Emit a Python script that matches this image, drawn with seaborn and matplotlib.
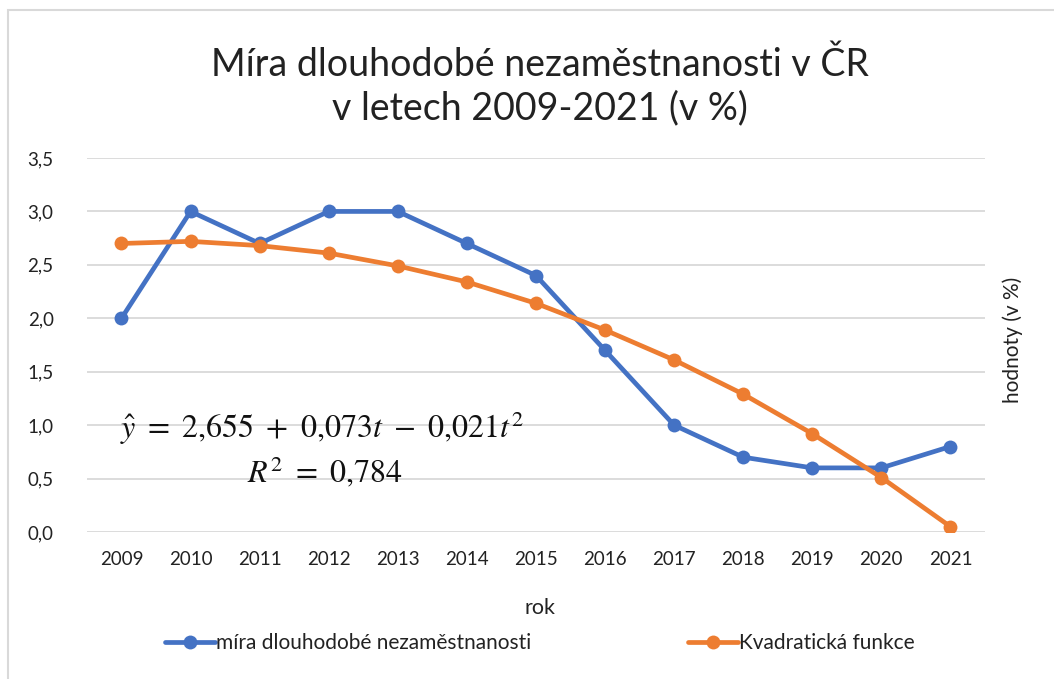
import matplotlib
matplotlib.use("Agg")
import matplotlib.pyplot as plt
import seaborn as sns
import pandas as pd
from matplotlib.patches import Rectangle

years = ["2009", "2010", "2011", "2012", "2013", "2014", "2015",
         "2016", "2017", "2018", "2019", "2020", "2021"]
mira = [2.0, 3.0, 2.7, 3.0, 3.0, 2.7, 2.4, 1.7, 1.0, 0.7, 0.6, 0.6, 0.8]
kvadr = [2.70, 2.72, 2.68, 2.61, 2.49, 2.34, 2.14, 1.89, 1.61, 1.29, 0.92, 0.51, 0.05]
y_ticks = [0.0, 0.5, 1.0, 1.5, 2.0, 2.5, 3.0, 3.5]
series_names = ["míra dlouhodobé nezaměstnanosti", "Kvadratická funkce"]
colors = ["#4472C4", "#ED7D31"]

sns.set_theme(style="white")
plt.rcParams["font.family"] = ["Lato", "DejaVu Sans"]
plt.rcParams["mathtext.fontset"] = "stix"

df = pd.DataFrame({
    "rok": years * 2,
    "x": list(range(len(years))) * 2,
    "hodnota": mira + kvadr,
    "serie": [series_names[0]] * len(years) + [series_names[1]] * len(years),
})

fig = plt.figure(figsize=(10.54, 6.79), dpi=100)
ax = fig.add_axes([0.0825, 0.2165, 0.852, 0.5508])

for name, col in zip(series_names, colors):
    sub = df[df["serie"] == name]
    sns.lineplot(data=sub, x="x", y="hodnota", ax=ax, color=col, linewidth=3.4,
                 marker="o", markersize=10, markeredgewidth=0, label=name,
                 markeredgecolor=col)

ax.set_xlim(-0.5, len(years) - 0.5)
ax.set_ylim(0, 3.5)
ax.set_xticks(range(len(years)))
ax.set_xticklabels(years)
ax.set_yticks(y_ticks)
ax.set_yticklabels([f"{v:.1f}".replace(".", ",") for v in y_ticks])
ax.yaxis.grid(True, color="#D9D9D9", linewidth=1.3)
ax.xaxis.grid(False)
for s in ax.spines.values():
    s.set_visible(False)
ax.tick_params(axis="both", length=0, labelsize=13.5, colors="#222222")
ax.tick_params(axis="y", pad=24)
ax.tick_params(axis="x", pad=14)
ax.set_xlabel("")
ax.set_ylabel("")
ax.set_axisbelow(True)

fig.text(0.512, 1 - 608 / 679, "rok", ha="center", va="center",
         fontsize=15.5, color="#222222")

# right-side axis title
fig.text(0.961, 0.5, "hodnoty (v %)", rotation=90, ha="center", va="center",
         fontsize=15, color="#222222")

fig.text(0.512, 1 - 86.5 / 679,
         "Míra dlouhodobé nezaměstnanosti v ČR\nv letech 2009-2021 (v %)",
         ha="center", va="center", fontsize=27, color="#222222",
         linespacing=1.27)

ax.text(2.9, 0.97, r"$\hat{y}\ =\ 2{,}655\ +\ 0{,}073t\ -\ 0{,}021t^2$",
        ha="center", va="center", fontsize=23, color="#111111")
ax.text(2.95, 0.56, r"$R^2\ =\ 0{,}784$", ha="center", va="center",
        fontsize=23, color="#111111")

ax.get_legend().remove()
handles, labels = ax.get_legend_handles_labels()
leg = fig.legend(handles, labels, loc="center", bbox_to_anchor=(0.512, 1 - 643 / 679),
                 ncol=2, frameon=False, fontsize=15, handlelength=2.4,
                 handletextpad=0.05, columnspacing=7.5)
for t in leg.get_texts():
    t.set_color("#222222")

fig.patches.append(Rectangle((8 / 1054, -0.1), 1.2, (1 - 10 / 679) + 0.1,
                             transform=fig.transFigure, fill=False,
                             edgecolor="#D9D9D9", linewidth=1.5))

fig.savefig("out.png", dpi=100)
